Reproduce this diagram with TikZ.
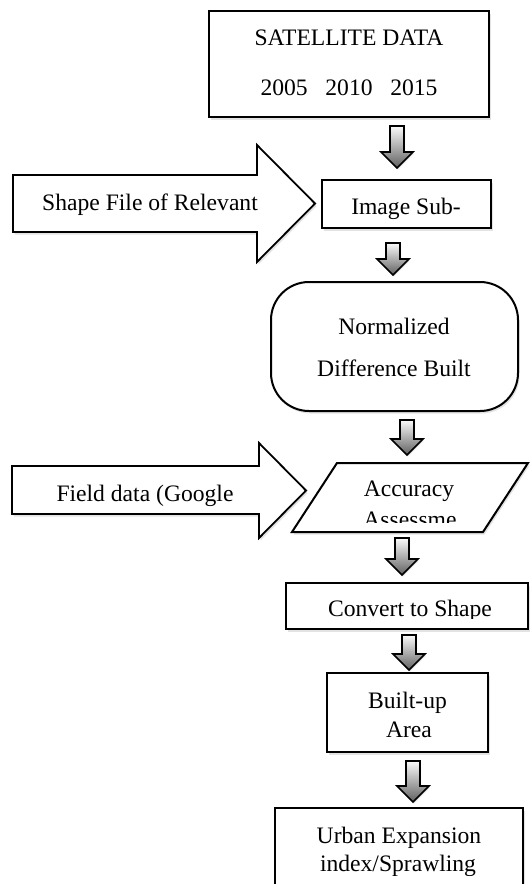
\documentclass[tikz,border=0pt]{standalone}
\usepackage{fontspec}
\setmainfont{Liberation Serif}
\usetikzlibrary{shadows}
\newcommand\dnarrow[3]{%
  \path[blockdn] (#1-7,#2) -- (#1+7,#2) -- (#1+7,#3-16) -- (#1+16,#3-16) -- (#1,#3) -- (#1-16,#3-16) -- (#1-7,#3-16) -- cycle;}
\begin{document}
\begin{tikzpicture}[x=1pt,y=-1pt,
  txt/.style={anchor=base,inner sep=0pt,font=\fontsize{23.6}{28}\selectfont},
  boxline/.style={draw=black,line width=2pt,fill=white,
    drop shadow={opacity=0.22,shadow xshift=1.5pt,shadow yshift=-2.5pt}},
  bigarrow/.style={draw=black,line width=1.8pt,fill=white,line join=miter,
    drop shadow={opacity=0.22,shadow xshift=1.5pt,shadow yshift=-2.5pt}},
  blockdn/.style={draw=black,line width=1.6pt,line join=miter,
    top color=white!96!gray,bottom color=gray!75!black,
    drop shadow={opacity=0.2,shadow xshift=1pt,shadow yshift=-1.5pt}}]
\useasboundingbox (0,0) rectangle (530,884);
\clip (0,0) rectangle (530,884);

% satellite data
\path[boxline] (209,11) rectangle (489,117);
\node[txt] (sat) at (349,45) {SATELLITE DATA};
\node[txt] (yrs) at (349,95) {2005\ \ \ 2010\ \ \ 2015};

\dnarrow{397}{126}{168}

% shape file arrow
\path[bigarrow] (13,175) -- (257,175) -- (257,145) -- (315,203.5) -- (257,262) -- (257,232) -- (13,232) -- cycle;
\node[txt] (shp) at (150,210) {Shape File of Relevant};

% image sub
\path[boxline] (322,180) rectangle (491,228);
\node[txt] (sub) at (406,214) {Image Sub-};

\dnarrow{393}{243}{275}

% NDBI
\path[boxline,rounded corners=38pt] (271,282) rectangle (518,411);
\node[txt] (nd1) at (394,334) {Normalized};
\node[txt] (nd2) at (394,376) {Difference Built};

\dnarrow{407}{420}{455}

% field data arrow
\path[bigarrow] (12,466) -- (259,466) -- (259,443) -- (306,490.5) -- (259,538) -- (259,514) -- (12,514) -- cycle;
\node[txt] (fld) at (145,501) {Field data (Google};

% accuracy
\path[boxline] (337,463) -- (528,463) -- (483,532) -- (292,532) -- cycle;
\node[txt] (acc) at (409,496) {Accuracy};
\begin{scope}
\clip (280,505) rectangle (530,522);
\node[txt] (ass) at (410,527) {Assessme};
\end{scope}

\dnarrow{402}{538}{575}

% convert
\path[boxline] (286,583) rectangle (528,629);
\begin{scope}
\clip (280,590) rectangle (530,618);
\node[txt] (cnv) at (410,616) {Convert to Shape};
\end{scope}

\dnarrow{409}{635}{670}

% built-up
\path[boxline] (327,673) rectangle (488,752);
\node[txt] (bu1) at (407.5,708) {Built-up};
\node[txt] (bu2) at (409,737) {Area};

\dnarrow{413}{761}{802}

% urban
\path[boxline] (275,808) rectangle (523,900);
\begin{scope}
\clip (270,812) rectangle (530,875);
\node[txt] (ur1) at (399,843) {Urban Expansion};
\node[txt] (ur2) at (398,871) {index/Sprawling};
\end{scope}
\end{tikzpicture}
\end{document}
